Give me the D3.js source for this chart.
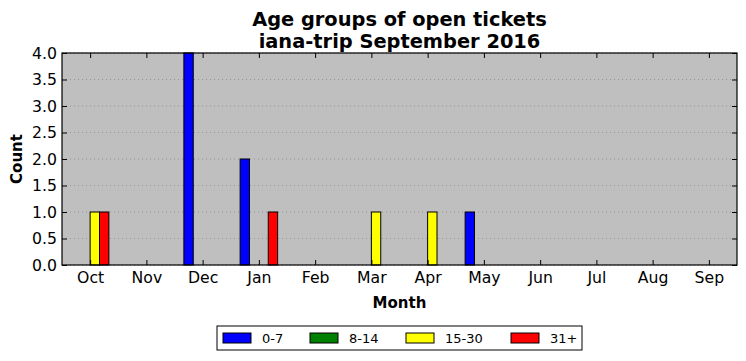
<!DOCTYPE html>
<html>
<head>
<meta charset="utf-8">
<script src="https://cdn.jsdelivr.net/npm/d3@7"></script>
<style>
  body { margin: 0; background: #fff; }
  svg { font-family: "DejaVu Sans", sans-serif; }
</style>
</head>
<body>
<div id="chart"></div>
<script>
// ##### DATA #####
const months = ["Oct", "Nov", "Dec", "Jan", "Feb", "Mar", "Apr", "May", "Jun", "Jul", "Aug", "Sep"];
const groups = ["0-7", "8-14", "15-30", "31+"];
const colors = ["#0000ff", "#008000", "#ffff00", "#ff0000"];
const age0_7   = [0, 0, 4, 2, 0, 0, 0, 1, 0, 0, 0, 0];
const age8_14  = [0, 0, 0, 0, 0, 0, 0, 0, 0, 0, 0, 0];
const age15_30 = [1, 0, 0, 0, 0, 1, 1, 0, 0, 0, 0, 0];
const age31    = [1, 0, 0, 1, 0, 0, 0, 0, 0, 0, 0, 0];
const series = [age0_7, age8_14, age15_30, age31];
const yTicks = [0, 0.5, 1, 1.5, 2, 2.5, 3, 3.5, 4];

// ##### LAYOUT #####
const width = 746, height = 361;
const m = { left: 62, right: 9, top: 53, bottom: 96 };
const pw = width - m.left - m.right;
const ph = height - m.top - m.bottom;

const svg = d3.select('#chart').append('svg')
    .attr('width', width).attr('height', height);

// x is a linear scale over month index, so the groups sit around the ticks
const x = d3.scaleLinear().domain([-0.5, months.length - 0.5]).range([0, pw]);
const y = d3.scaleLinear().domain([0, 4]).range([ph, 0]);
const barW = (x(1) - x(0)) / 6;

const g = svg.append('g').attr('transform', `translate(${m.left},${m.top})`);

g.append('rect').attr('width', pw).attr('height', ph).attr('fill', '#bfbfbf');

// dotted grid
g.selectAll('.grid').data(yTicks).enter().append('line')
    .attr('x1', 0).attr('x2', pw)
    .attr('y1', d => y(d)).attr('y2', d => y(d))
    .attr('stroke', '#8a8a8a').attr('stroke-width', 0.8)
    .attr('stroke-dasharray', '1,3');

// bars
series.forEach((vals, i) => {
    g.selectAll('.bar' + i).data(vals).enter().append('rect')
        .attr('x', (d, j) => x(j) + (i - 2) * barW)
        .attr('y', d => y(d))
        .attr('width', barW)
        .attr('height', d => y(0) - y(d))
        .attr('fill', colors[i])
        .attr('stroke', '#000').attr('stroke-width', 1);
});

// axes with inward ticks on all sides
const tk = 5;
const xAxisB = d3.axisBottom(x).tickValues(d3.range(months.length))
    .tickFormat(i => months[i]).tickSizeInner(-tk).tickSizeOuter(0).tickPadding(7);
const xAxisT = d3.axisTop(x).tickValues(d3.range(months.length))
    .tickFormat('').tickSizeInner(-tk).tickSizeOuter(0);
const yAxisL = d3.axisLeft(y).tickValues(yTicks).tickFormat(d3.format('.1f'))
    .tickSizeInner(-tk).tickSizeOuter(0).tickPadding(5);
const yAxisR = d3.axisRight(y).tickValues(yTicks).tickFormat('')
    .tickSizeInner(-tk).tickSizeOuter(0);

function style(sel) {
    sel.select('.domain').remove();
    sel.selectAll('line').attr('stroke', '#000');
    sel.selectAll('text').attr('fill', '#000').attr('font-size', 15.7)
        .attr('font-family', '"DejaVu Sans", sans-serif');
}
g.append('g').attr('transform', `translate(0,${ph})`).call(xAxisB).call(style);
g.append('g').call(xAxisT).call(style);
g.append('g').call(yAxisL).call(style);
g.append('g').attr('transform', `translate(${pw},0)`).call(yAxisR).call(style);

g.append('rect').attr('width', pw).attr('height', ph)
    .attr('fill', 'none').attr('stroke', '#000').attr('stroke-width', 1.2);

// titles
svg.append('text').attr('x', m.left + pw / 2).attr('y', 25.5)
    .attr('text-anchor', 'middle').attr('font-size', 19.4).attr('font-weight', 'bold')
    .text('Age groups of open tickets');
svg.append('text').attr('x', m.left + pw / 2).attr('y', 47.5)
    .attr('text-anchor', 'middle').attr('font-size', 19.4).attr('font-weight', 'bold')
    .text('iana-trip September 2016');
svg.append('text').attr('x', m.left + pw / 2).attr('y', 308)
    .attr('text-anchor', 'middle').attr('font-size', 15).attr('font-weight', 'bold')
    .text('Month');
svg.append('text').attr('transform', `translate(22,${m.top + ph / 2}) rotate(-90)`)
    .attr('text-anchor', 'middle').attr('font-size', 15).attr('font-weight', 'bold')
    .text('Count');

// legend
const leg = svg.append('g').attr('transform', 'translate(217,326)');
leg.append('rect').attr('width', 365).attr('height', 24)
    .attr('fill', '#fff').attr('stroke', '#000').attr('stroke-width', 1);
const legX = [6, 93, 189, 294];
groups.forEach((name, i) => {
    leg.append('rect').attr('x', legX[i]).attr('y', 7).attr('width', 28).attr('height', 10)
        .attr('fill', colors[i]).attr('stroke', '#000').attr('stroke-width', 1);
    leg.append('text').attr('x', legX[i] + 39).attr('y', 17)
        .attr('font-size', 13).text(name);
});
</script>
</body>
</html>
